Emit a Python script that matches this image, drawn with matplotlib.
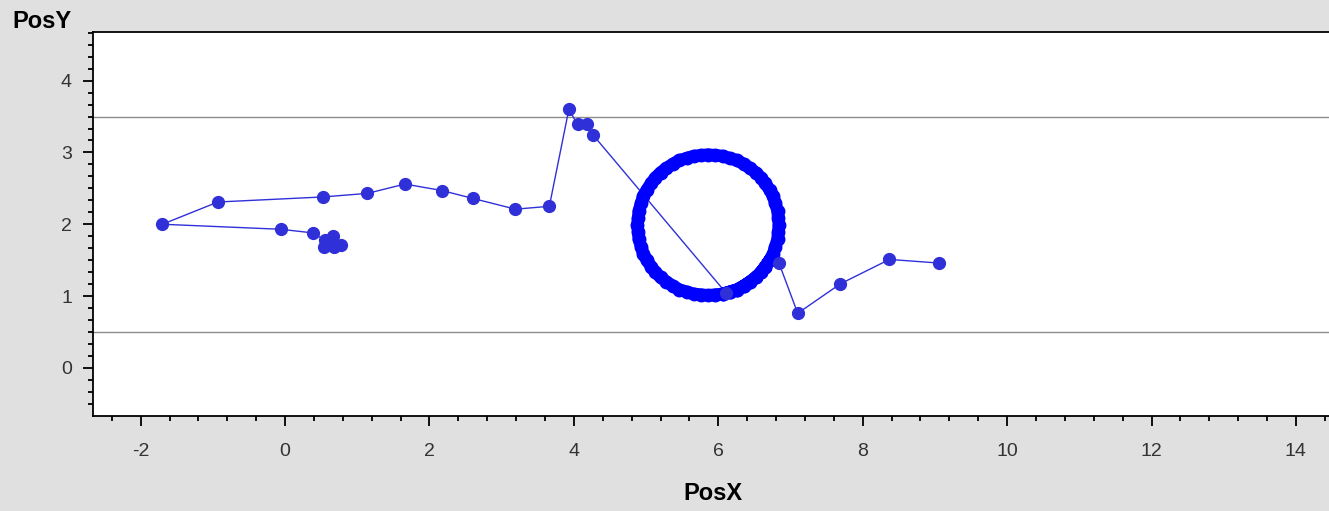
import numpy as np
import matplotlib.pyplot as plt

# track: first wander, the loop, then the tail
start_x = [0.77, 0.66, 0.68, 0.54, 0.55, 0.38, -0.06, -1.70, -0.93, 0.52, 1.14,
           1.66, 2.17, 2.60, 3.19, 3.66, 3.93, 4.05, 4.18, 4.26, 6.11]
start_y = [1.71, 1.84, 1.68, 1.68, 1.78, 1.88, 1.93, 2.00, 2.31, 2.38, 2.43,
           2.56, 2.47, 2.36, 2.21, 2.25, 3.60, 3.39, 3.39, 3.25, 1.04]

loop_x = [6.06, 6.16, 6.26, 6.35, 6.44, 6.52, 6.59, 6.65, 6.71, 6.76, 6.79, 6.82,
          6.83, 6.84, 6.83, 6.82, 6.79, 6.76, 6.71, 6.65, 6.59, 6.52, 6.44, 6.35,
          6.26, 6.16, 6.06, 5.96, 5.86, 5.76, 5.66, 5.56, 5.46, 5.37, 5.28, 5.20,
          5.13, 5.07, 5.01, 4.96, 4.93, 4.90, 4.89, 4.88, 4.89, 4.90, 4.93, 4.96,
          5.01, 5.07, 5.13, 5.20, 5.28, 5.37, 5.46, 5.56, 5.66, 5.76, 5.86, 5.96,
          6.06, 6.16, 6.26, 6.35, 6.44, 6.52, 6.59, 6.65, 6.71]
loop_y = [1.03, 1.06, 1.09, 1.14, 1.20, 1.26, 1.33, 1.41, 1.50, 1.59, 1.69, 1.79,
          1.89, 1.99, 2.09, 2.19, 2.29, 2.39, 2.48, 2.57, 2.65, 2.72, 2.78, 2.84,
          2.89, 2.92, 2.95, 2.96, 2.97, 2.96, 2.95, 2.92, 2.89, 2.84, 2.78, 2.72,
          2.65, 2.57, 2.48, 2.39, 2.29, 2.19, 2.09, 1.99, 1.89, 1.79, 1.69, 1.59,
          1.50, 1.41, 1.33, 1.26, 1.20, 1.14, 1.09, 1.06, 1.03, 1.02, 1.01, 1.02,
          1.03, 1.06, 1.09, 1.14, 1.20, 1.26, 1.33, 1.41, 1.50]

tail_x = [6.84, 7.10, 7.69, 8.37, 9.05]
tail_y = [1.46, 0.76, 1.17, 1.51, 1.46]

limit_lines = [3.5, 0.5]

x_ticks = [-2, 0, 2, 4, 6, 8, 10, 12, 14]
y_ticks = [0, 1, 2, 3, 4]

bg = '#e0e0e0'
mark_col = '#3030d8'
loop_col = '#0000ff'

plt.rcParams['font.family'] = ['Liberation Sans', 'DejaVu Sans']
plt.rcParams['axes.unicode_minus'] = False

fig = plt.figure(figsize=(13.29, 5.11), dpi=100, facecolor=bg)
ax = fig.add_axes([0.070, 0.186, 0.935, 0.751])
ax.set_facecolor('white')

for yv in limit_lines:
    ax.axhline(yv, color='#8c8c8c', lw=1.0, zorder=1)

all_x = start_x + loop_x + tail_x
all_y = start_y + loop_y + tail_y
ax.plot(all_x, all_y, color=mark_col, lw=1.0, zorder=2)
# the loop points sit so close together that they merge into a thick band
ax.plot(loop_x, loop_y, '-', color=loop_col, lw=9, solid_capstyle='round',
        zorder=3)
ax.plot(loop_x, loop_y, 'o', color=loop_col, ms=9, mec=loop_col, zorder=3)
ax.plot(start_x + tail_x, start_y + tail_y, 'o', color=mark_col, ms=8.5,
        mec=mark_col, zorder=4)

ax.set_xlim(-2.66, 14.55)
ax.set_ylim(-0.67, 4.675)
ax.set_xticks(x_ticks)
ax.set_yticks(y_ticks)
ax.set_xticks(np.arange(-2.4, 14.6, 0.4), minor=True)
ax.set_yticks(np.arange(-0.5, 4.7, 1/6), minor=True)
ax.tick_params(which='major', length=7.2, width=1.3, labelsize=14,
               labelcolor='#333333', direction='out')
ax.tick_params(which='minor', length=3.6, width=1.3, direction='out')
ax.tick_params(axis='x', pad=12)
ax.tick_params(axis='y', pad=8)

for s in ax.spines.values():
    s.set_linewidth(1.3)
    s.set_color('black')

fig.text(42/1329, 1 - 22/511, 'PosY', ha='center', va='center',
         fontsize=17, fontweight='bold')
fig.text(713/1329, 1 - 494/511, 'PosX', ha='center', va='center',
         fontsize=17, fontweight='bold')

fig.savefig('out.png', dpi=100, facecolor=bg)
